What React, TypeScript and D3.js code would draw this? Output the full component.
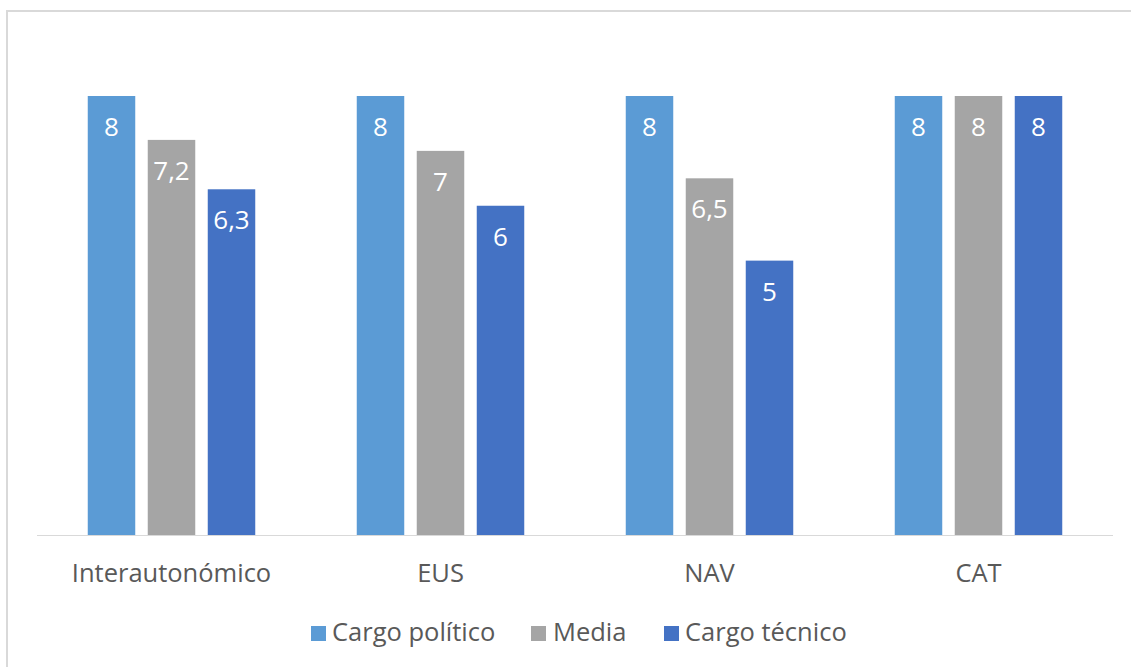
import React from "react";
import * as d3 from "d3";

const categories = ["Interautonómico", "EUS", "NAV", "CAT"];
const seriesNames = ["Cargo político", "Media", "Cargo técnico"];
const cargoPolitico = [8, 8, 8, 8];
const media = [7.2, 7, 6.5, 8];
const cargoTecnico = [6.3, 6, 5, 8];
const colors = ["#5B9BD5", "#A5A5A5", "#4472C4"];

const W = 1131;
const H = 667;
const FONT = "'Open Sans', 'Noto Sans', sans-serif";

export default function App() {
  const series = [cargoPolitico, media, cargoTecnico];
  const left = 37;
  const right = 1113;
  const top = 96;
  const bottom = 535;

  const x0 = d3.scaleBand<string>().domain(categories).range([left, right]).paddingInner(0).paddingOuter(0);
  const y = d3.scaleLinear().domain([0, 8]).range([bottom, top]);
  const bw = x0.bandwidth();
  const barW = 47.5;
  const step = 60;

  const fmt = (v: number) => String(v).replace(".", ",");

  const legendItems = [
    { sq: 311, tx: 332 },
    { sq: 531, tx: 553 },
    { sq: 664, tx: 685 },
  ];

  return (
    <svg width={W} height={H} style={{ position: "absolute", left: 0, top: 0 }}>
      <rect x={0} y={0} width={W} height={H} fill="#fff" />
      <rect x={7} y={11} width={W + 10} height={H + 10} fill="none" stroke="#d9d9d9" strokeWidth={2} />
      {categories.map((c, ci) => {
        const cx = (x0(c) as number) + bw / 2;
        return (
          <g key={c}>
            {series.map((s, si) => {
              const bx = cx + (si - 1) * step - barW / 2;
              const yt = y(s[ci]);
              return (
                <g key={si}>
                  <rect x={bx} y={yt} width={barW} height={bottom - yt} fill={colors[si]} />
                  <text
                    x={bx + barW / 2}
                    y={yt + 40}
                    textAnchor="middle"
                    fill="#fff"
                    fontFamily={FONT}
                    fontSize={26}
                  >
                    {fmt(s[ci])}
                  </text>
                </g>
              );
            })}
            <text x={cx} y={582} textAnchor="middle" fill="#595959" fontFamily={FONT} fontSize={25.5}>
              {c}
            </text>
          </g>
        );
      })}
      <line x1={left} x2={right} y1={bottom + 0.5} y2={bottom + 0.5} stroke="#d9d9d9" strokeWidth={1} />
      {seriesNames.map((n, i) => (
        <g key={n}>
          <rect x={legendItems[i].sq} y={626} width={15} height={15} fill={colors[i]} />
          <text x={legendItems[i].tx} y={641} fill="#595959" fontFamily={FONT} fontSize={25.5}>
            {n}
          </text>
        </g>
      ))}
    </svg>
  );
}
